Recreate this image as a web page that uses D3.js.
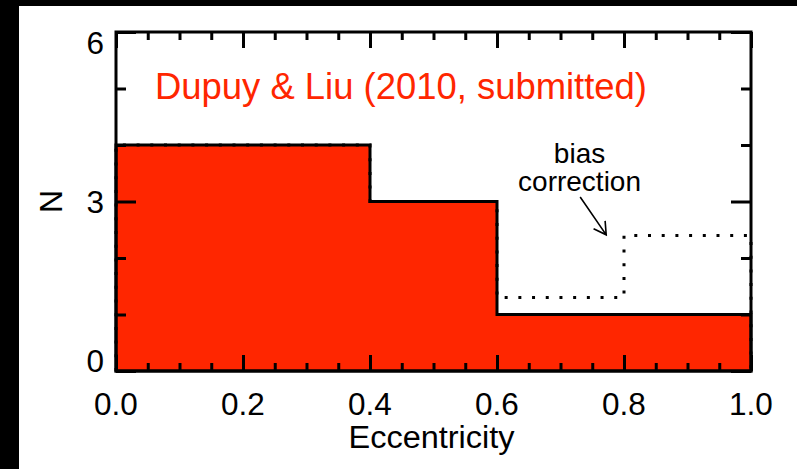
<!DOCTYPE html>
<html>
<head>
<meta charset="utf-8">
<script src="https://cdn.jsdelivr.net/npm/d3@7"></script>
<style>
  html, body { margin: 0; padding: 0; background: #000; }
  svg { display: block; }
  text { font-family: "Liberation Sans", Arial, Helvetica, sans-serif; }
</style>
</head>
<body>
<svg id="chart" width="797" height="469"></svg>
<script>
// Eccentricity histogram: observed counts and the bias-corrected distribution
const binEdges = [0.0, 0.4, 0.6, 0.8, 1.0];
const observedCounts = [4, 3, 1, 1];
const correctedCounts = [4, 3, 1.3, 2.4];

const xMajorTicks = [0.0, 0.2, 0.4, 0.6, 0.8, 1.0];
const xMinorTicks = [0.05, 0.1, 0.15, 0.25, 0.3, 0.35, 0.45, 0.5, 0.55, 0.65, 0.7, 0.75, 0.85, 0.9, 0.95];
const yMajorTicks = [0, 3, 6];
const yMinorTicks = [1, 2, 4, 5];

const titleText = "Dupuy & Liu (2010, submitted)";
const noteLines = ["bias", "correction"];

const W = 797, H = 469;
const plot = { left: 116, right: 751, top: 32, bottom: 371 };
const RED = "#ff2600";

const svg = d3.select("#chart");

// black frame at left/top edges, white page
svg.append("rect").attr("width", W).attr("height", H).attr("fill", "#000");
svg.append("rect").attr("x", 19).attr("y", 6).attr("width", W - 19).attr("height", H - 6).attr("fill", "#fff");

const x = d3.scaleLinear().domain([0, 1]).range([plot.left, plot.right]);
const y = d3.scaleLinear().domain([0, 6]).range([plot.bottom, plot.top]);

// step outline for a histogram
function stepPoints(edges, counts) {
  const pts = [[edges[0], 0]];
  counts.forEach((c, i) => {
    pts.push([edges[i], c]);
    pts.push([edges[i + 1], c]);
  });
  pts.push([edges[edges.length - 1], 0]);
  return pts;
}
const line = d3.line().x(d => x(d[0])).y(d => y(d[1]));

// observed histogram (filled)
svg.append("path")
  .attr("d", line(stepPoints(binEdges, observedCounts)) + "Z")
  .attr("fill", RED)
  .attr("stroke", "#000")
  .attr("stroke-width", 3)
  .attr("stroke-linejoin", "miter");

// bias-corrected histogram (dotted)
svg.append("path")
  .attr("d", line(stepPoints(binEdges, correctedCounts)))
  .attr("fill", "none")
  .attr("stroke", "#000")
  .attr("stroke-width", 3)
  .attr("stroke-dasharray", "3 10.7");

// axes with inward ticks on all four sides
function styleAxis(g) {
  g.select(".domain").remove();
  g.selectAll(".tick line").attr("stroke", "#000").attr("stroke-width", 3);
  g.selectAll(".tick text").remove();
}
const axes = [
  [d3.axisBottom(x).tickValues(xMajorTicks).tickSize(-16), `translate(0,${plot.bottom})`],
  [d3.axisBottom(x).tickValues(xMinorTicks).tickSize(-8), `translate(0,${plot.bottom})`],
  [d3.axisTop(x).tickValues(xMajorTicks).tickSize(-16), `translate(0,${plot.top})`],
  [d3.axisTop(x).tickValues(xMinorTicks).tickSize(-8), `translate(0,${plot.top})`],
  [d3.axisLeft(y).tickValues(yMajorTicks).tickSize(-20), `translate(${plot.left},0)`],
  [d3.axisLeft(y).tickValues(yMinorTicks).tickSize(-10), `translate(${plot.left},0)`],
  [d3.axisRight(y).tickValues(yMajorTicks).tickSize(-20), `translate(${plot.right},0)`],
  [d3.axisRight(y).tickValues(yMinorTicks).tickSize(-10), `translate(${plot.right},0)`]
];
axes.forEach(([ax, tr]) => {
  svg.append("g").attr("transform", tr).call(ax).call(styleAxis);
});

// plot frame
svg.append("rect")
  .attr("x", plot.left).attr("y", plot.top)
  .attr("width", plot.right - plot.left).attr("height", plot.bottom - plot.top)
  .attr("fill", "none").attr("stroke", "#000").attr("stroke-width", 3);

// tick labels
const tickFont = 31.5;
svg.append("g").selectAll("text").data(xMajorTicks).join("text")
  .attr("x", d => x(d))
  .attr("y", 415)
  .attr("text-anchor", "middle")
  .attr("font-size", tickFont)
  .attr("fill", "#000")
  .text(d => d3.format(".1f")(d));

const capH = tickFont * 0.716;
svg.append("g").selectAll("text").data(yMajorTicks).join("text")
  .attr("x", plot.left - 12)
  .attr("y", d => Math.max(plot.top - 1 + capH, Math.min(plot.bottom + 1, y(d) + capH / 2)))
  .attr("text-anchor", "end")
  .attr("font-size", tickFont)
  .attr("fill", "#000")
  .text(d => d);

// axis titles
svg.append("text")
  .attr("x", (plot.left + plot.right) / 2 - 2)
  .attr("y", 448)
  .attr("text-anchor", "middle")
  .attr("font-size", 31)
  .attr("textLength", 166)
  .attr("lengthAdjust", "spacingAndGlyphs")
  .attr("fill", "#000")
  .text("Eccentricity");

svg.append("text")
  .attr("transform", `translate(62,${y(3)}) rotate(-90)`)
  .attr("text-anchor", "middle")
  .attr("font-size", 32)
  .attr("fill", "#000")
  .text("N");

// red caption
svg.append("text")
  .attr("x", 155)
  .attr("y", 99)
  .attr("font-size", 36)
  .attr("textLength", 492)
  .attr("lengthAdjust", "spacingAndGlyphs")
  .attr("fill", RED)
  .text(titleText);

// bias correction note and arrow
const noteX = x(0.73);
svg.append("g").selectAll("text").data(noteLines).join("text")
  .attr("x", noteX)
  .attr("y", (d, i) => 163 + i * 28)
  .attr("text-anchor", "middle")
  .attr("font-size", 28)
  .attr("fill", "#000")
  .text(d => d);

const tail = [x(0.731), y(3.08)];
const tip = [x(0.772), y(2.41)];
const ang = Math.atan2(tail[1] - tip[1], tail[0] - tip[0]);
const headLen = 14, spread = Math.PI / 6;
const wing = s => [tip[0] + headLen * Math.cos(ang + s), tip[1] + headLen * Math.sin(ang + s)];
svg.append("path")
  .attr("d", `M${tail}L${tip}M${wing(spread)}L${tip}L${wing(-spread)}`)
  .attr("fill", "none")
  .attr("stroke", "#000")
  .attr("stroke-width", 1.6);
</script>
</body>
</html>
